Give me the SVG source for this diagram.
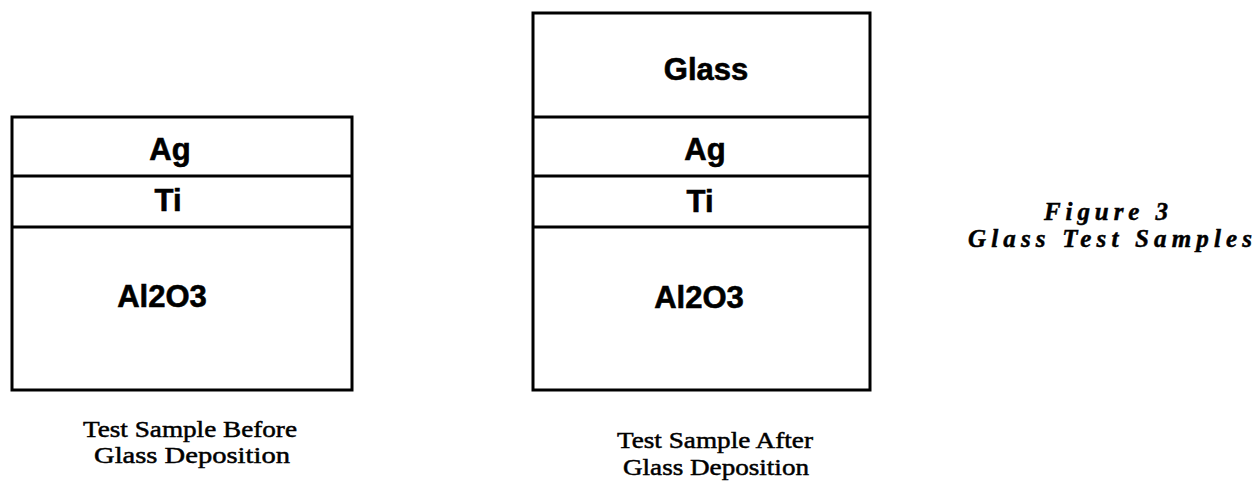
<svg xmlns="http://www.w3.org/2000/svg" width="1256" height="481" viewBox="0 0 1256 481">
<style>
.box{fill:none;stroke:#000;stroke-width:3}
.sep{stroke:#000;stroke-width:3}
.lbl{font-family:"Liberation Sans",Arial,sans-serif;font-weight:bold;font-size:31px;fill:#000;text-anchor:middle;stroke:#000;stroke-width:0.6}
.cap{font-family:"Liberation Serif","Times New Roman",serif;font-size:24px;fill:#000;text-anchor:middle;stroke:#000;stroke-width:0.5}
.fig{font-family:"Liberation Serif","Times New Roman",serif;font-size:25px;font-weight:bold;font-style:italic;fill:#000;text-anchor:middle;stroke:#000;stroke-width:0.5}
</style>
<rect width="1256" height="481" fill="#fff"/>
<g id="sample-before">
<rect class="box" x="12" y="117" width="340" height="273"/>
<line class="sep" x1="12" y1="176" x2="352" y2="176"/>
<line class="sep" x1="12" y1="227" x2="352" y2="227"/>
<text class="lbl" x="170" y="160">Ag</text>
<text class="lbl" x="168" y="211">Ti</text>
<text class="lbl" x="162" y="307">Al2O3</text>
<text class="cap" x="190" y="437" textLength="214" lengthAdjust="spacingAndGlyphs">Test Sample Before</text>
<text class="cap" x="192" y="463" textLength="196" lengthAdjust="spacingAndGlyphs">Glass Deposition</text>
</g>
<g id="sample-after">
<rect class="box" x="533" y="13" width="337" height="377"/>
<line class="sep" x1="533" y1="117" x2="870" y2="117"/>
<line class="sep" x1="533" y1="176" x2="870" y2="176"/>
<line class="sep" x1="533" y1="227" x2="870" y2="227"/>
<text class="lbl" x="706" y="80">Glass</text>
<text class="lbl" x="705" y="160">Ag</text>
<text class="lbl" x="700" y="212">Ti</text>
<text class="lbl" x="699" y="308">Al2O3</text>
<text class="cap" x="715" y="448" textLength="196" lengthAdjust="spacingAndGlyphs">Test Sample After</text>
<text class="cap" x="716" y="475" textLength="186" lengthAdjust="spacingAndGlyphs">Glass Deposition</text>
</g>
<g id="figure-title">
<text class="fig" x="1106" y="220" textLength="124" lengthAdjust="spacing">Figure 3</text>
<text class="fig" x="1110" y="247" textLength="284" lengthAdjust="spacing">Glass Test Samples</text>
</g>
<g id="connectors"></g>
</svg>
